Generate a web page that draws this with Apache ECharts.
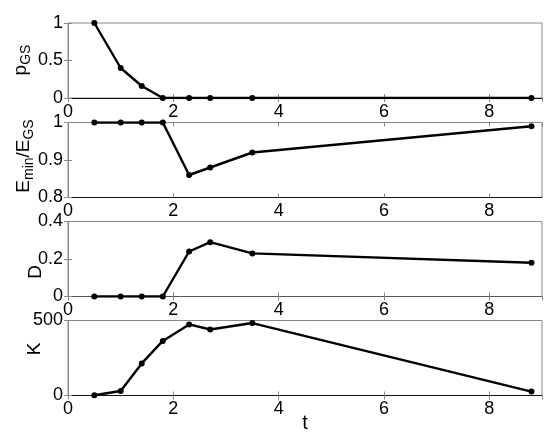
<!DOCTYPE html>
<html>
<head>
<meta charset="utf-8">
<script src="https://cdn.jsdelivr.net/npm/echarts@6/dist/echarts.min.js"></script>
<style>html,body{margin:0;padding:0;background:#fff}#c{width:554px;height:436px}</style>
</head>
<body>
<div id="c"></div>
<script>
// ---- data ----
const tValues = [0.5, 1.0, 1.4, 1.8, 2.3, 2.7, 3.5, 8.8];
const pGS = [1, 0.4, 0.16, 0, 0, 0, 0, 0];
const eRatio = [1, 1, 1, 1, 0.86, 0.88, 0.92, 0.99];
const dValues = [0, 0, 0, 0, 0.24, 0.29, 0.23, 0.18];
const kValues = [2, 30, 214, 364, 474, 440, 483, 26];
const yRanges = [[0, 1, 0.5], [0.8, 1, 0.1], [0, 0.4, 0.2], [0, 500, 500]];
const xRange = [0, 9, 2];

const FONT = 'Liberation Sans, Arial, Helvetica, sans-serif';
const chart = echarts.init(document.getElementById('c'), null, {renderer: 'canvas'});

const tops = [23, 122.5, 221.5, 320.5];
const H = 75;
const grids = tops.map(t => ({left: 68, right: 12, top: t, height: H, show: true, borderColor: '#8a8a8a', borderWidth: 1, backgroundColor: 'transparent'}));

const fmt = v => String(+v.toFixed(3));
const xAxes = [], yAxes = [];
for (let i = 0; i < 4; i++) {
  xAxes.push({
    type: 'value', gridIndex: i, min: xRange[0], max: xRange[1], interval: xRange[2], position: 'bottom',
    axisLine: {show: true, lineStyle: {color: i === 2 ? '#555' : '#111', width: 1}},
    axisTick: {show: true, inside: true, length: 4, lineStyle: {color: '#8a8a8a'}},
    axisLabel: {show: true, color: '#000', fontSize: 18, fontFamily: FONT, margin: 5, showMaxLabel: false, formatter: fmt},
    splitLine: {show: false}
  });
  xAxes.push({
    type: 'value', gridIndex: i, min: xRange[0], max: xRange[1], interval: xRange[2], position: 'top',
    axisLine: {show: false},
    axisTick: {show: true, inside: true, length: 4, lineStyle: {color: '#8a8a8a'}},
    axisLabel: {show: false}, splitLine: {show: false}
  });
  const r = yRanges[i];
  yAxes.push({
    type: 'value', gridIndex: i, min: r[0], max: r[1], interval: r[2], position: 'left',
    axisLine: {show: true, lineStyle: {color: '#8a8a8a', width: 1}},
    axisTick: {show: true, inside: true, length: 4, lineStyle: {color: '#8a8a8a'}},
    axisLabel: {show: true, color: '#000', fontSize: 18, fontFamily: FONT, margin: 5, formatter: fmt},
    splitLine: {show: false}
  });
  yAxes.push({
    type: 'value', gridIndex: i, min: r[0], max: r[1], interval: r[2], position: 'right',
    axisLine: {show: false},
    axisTick: {show: true, inside: true, length: 4, lineStyle: {color: '#8a8a8a'}},
    axisLabel: {show: false}, splitLine: {show: false}
  });
}

const seriesVals = [pGS, eRatio, dValues, kValues];
const series = seriesVals.map((vals, i) => ({
  type: 'line', xAxisIndex: 2 * i, yAxisIndex: 2 * i,
  data: tValues.map((t, j) => [t, vals[j]]),
  symbol: 'circle', symbolSize: 6, showSymbol: true,
  lineStyle: {color: '#000', width: 2.4},
  itemStyle: {color: '#000'},
  animation: false, silent: true
}));

const rich = {
  a: {fontSize: 19, fontFamily: FONT, color: '#000'},
  s: {fontSize: 14, fontFamily: FONT, color: '#000', padding: [10, 0, 0, 0]}
};
function ytitle(text, cx, cy) {
  return {type: 'text', x: cx, y: cy, rotation: Math.PI / 2,
    style: {text: text, rich: rich, align: 'center', verticalAlign: 'middle', fill: '#000', font: '19px ' + FONT}};
}

chart.setOption({
  animation: false,
  grid: grids,
  xAxis: xAxes,
  yAxis: yAxes,
  series: series,
  graphic: [
    ytitle('{a|p}{s|GS}', 21, 60),
    ytitle('{a|E}{s|min}{a|/E}{s|GS}', 24, 156),
    ytitle('{a|D}', 36, 272),
    ytitle('{a|K}', 35, 349),
    {type: 'text', x: 305, y: 423, style: {text: 't', align: 'center', verticalAlign: 'middle', fill: '#000', font: '20px ' + FONT}}
  ]
});
</script>
</body>
</html>
